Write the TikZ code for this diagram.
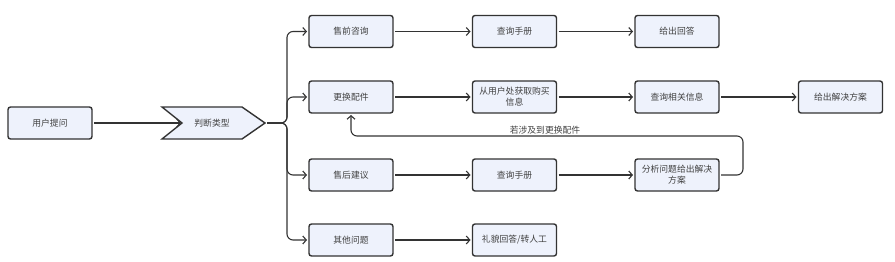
\documentclass[tikz,border=0pt]{standalone}
\usepackage{fontspec}
\setmainfont{Noto Sans CJK SC}
\usetikzlibrary{arrows.meta,shapes.symbols}
\definecolor{boxfill}{HTML}{EEF2FC}
\definecolor{boxline}{HTML}{333333}
\definecolor{txt}{HTML}{404040}
\tikzset{
  stepbox/.style={draw=boxline, line width=1.4pt, fill=boxfill, rounded corners=2.5pt,
    minimum width=84pt, minimum height=32pt, text width=82pt, align=center,
    font=\fontsize{8.8}{11}\selectfont, text=txt, inner sep=1pt, outer sep=2pt},
  conn/.style={draw=boxline, line width=1.1pt, -{Straight Barb[length=3.5pt,width=8pt]}, rounded corners=6pt},
}
\begin{document}
\begin{tikzpicture}[x=1pt,y=-1pt]
\useasboundingbox (0,0) rectangle (895,262);
\node[stepbox] (ask) at (50,123) {用户提问};
\path[draw=boxline, line width=1.4pt, fill=boxfill, line join=miter]
  (162,107) -- (242,107) -- (265,123) -- (242,139) -- (162,139) -- (182,123) -- cycle;
\node[font=\fontsize{8.8}{11}\selectfont, text=txt] (judge) at (212,123) {判断类型};
\coordinate (jtip) at (267,123);
\coordinate (jin) at (181,123);

\node[stepbox] (pre) at (351,31.5) {售前咨询};
\node[stepbox] (rep) at (351,97) {更换配件};
\node[stepbox] (after) at (351,175) {售后建议};
\node[stepbox] (other) at (351,240) {其他问题};

\node[stepbox] (man1) at (514.5,31.5) {查询手册};
\node[stepbox] (info) at (514.5,97) {从用户处获取购买\\信息};
\node[stepbox] (man2) at (514.5,175) {查询手册};
\node[stepbox] (polite) at (514.5,240) {礼貌回答/转人工};

\node[stepbox] (ans) at (677,31.5) {给出回答};
\node[stepbox] (rel) at (677,97) {查询相关信息};
\node[stepbox] (ana) at (677,175) {分析问题给出解决\\方案};

\node[stepbox] (sol) at (840.5,97) {给出解决方案};

\draw[conn] (ask.east) -- (jin);
\foreach \t in {pre,rep,after,other}{
  \draw[conn] (jtip) -- (287,123) |- (\t.west);
}
\draw[conn] (pre) -- (man1);
\draw[conn] (man1) -- (ans);
\draw[conn] (rep) -- (info);
\draw[conn] (info) -- (rel);
\draw[conn] (rel) -- (sol);
\draw[conn] (after) -- (man2);
\draw[conn] (man2) -- (ana);
\draw[conn] (other) -- (polite);
\draw[conn] (ana.east) -- (743,175) -- (743,136) -- (351,136) -- (rep.south);
\node[font=\fontsize{8.8}{11}\selectfont, text=txt] (lbl) at (545,130.5) {若涉及到更换配件};
\end{tikzpicture}
\end{document}
